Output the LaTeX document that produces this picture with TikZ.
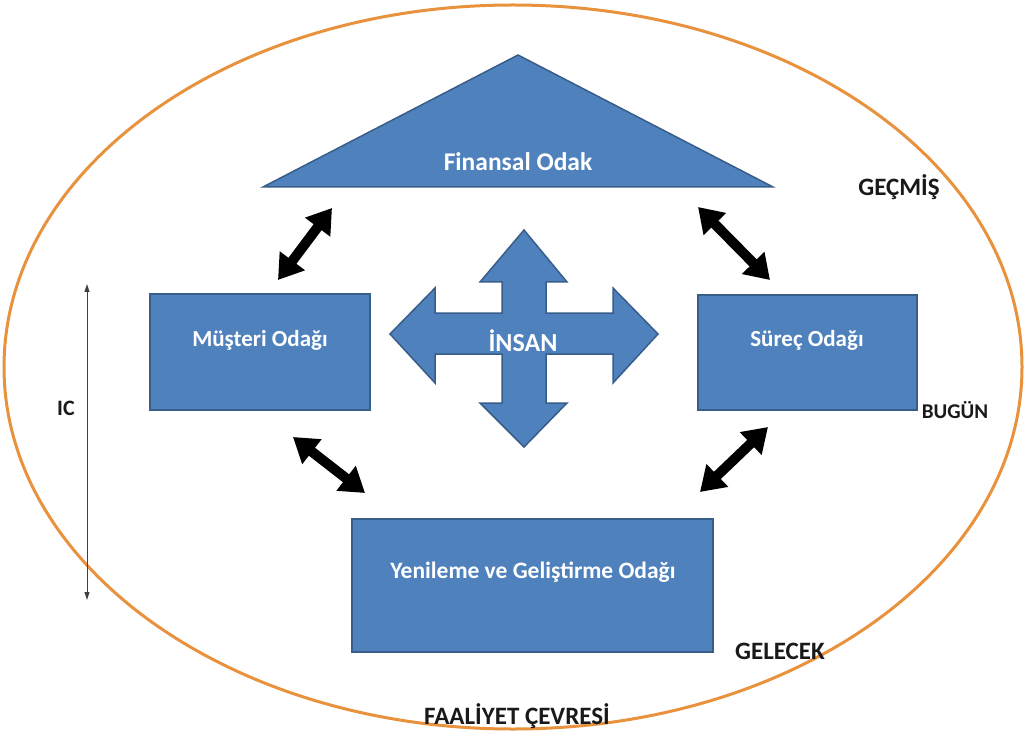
\documentclass[tikz,border=0pt]{standalone}
\usepackage{fontspec}
\setmainfont{Carlito}
\usetikzlibrary{arrows.meta}
\definecolor{boxblue}{HTML}{4F81BD}
\definecolor{boxedge}{HTML}{385D8A}
\definecolor{ringorange}{RGB}{232,146,62}
\definecolor{labelink}{RGB}{25,25,25}
\tikzset{
  bluebox/.style={draw=boxedge, fill=boxblue, line width=1.5pt},
  boxtext/.style={text=white, font=\fontsize{23}{27}\selectfont\bfseries, inner sep=0pt},
  outlabel/.style={text=labelink, font=\fontsize{25}{29}\selectfont\bfseries, inner sep=0pt},
  linkarrow/.style={draw=black, line width=10pt, {Triangle[width=30pt,length=24pt]}-{Triangle[width=30pt,length=24pt]}},
}
\begin{document}
\begin{tikzpicture}[x=1pt,y=-1pt]
\useasboundingbox (0,0) rectangle (1025,735);
% outer ring
\draw[ringorange, line width=3pt] (513,367) ellipse [x radius=509, y radius=362];
% triangle
\filldraw[bluebox] (518,55) -- (773,187) -- (263,187) -- cycle;
\node[boxtext, font=\fontsize{25.5}{30}\selectfont\bfseries] (fin) at (518,162) {Finansal Odak};
% boxes
\filldraw[bluebox] (150,294) rectangle (370,410);
\node[boxtext] (mus) at (260,340) {Müşteri Odağı};
\filldraw[bluebox] (698,295) rectangle (917,410);
\node[boxtext] (sur) at (807,340) {Süreç Odağı};
\filldraw[bluebox] (352,519) rectangle (713,652);
\node[boxtext, font=\fontsize{23.5}{28}\selectfont\bfseries] (yen) at (533,572) {Yenileme ve Geliştirme Odağı};
% cross arrow
\filldraw[bluebox]
  (524,230) -- (567,282) -- (546,282) -- (546,313)
  -- (613,313) -- (613,288) -- (658,334) -- (613,383) -- (613,354)
  -- (546,354) -- (546,403) -- (567,403) -- (524,447) -- (480,403)
  -- (502,403) -- (502,354) -- (435,354) -- (435,383) -- (390,334)
  -- (435,288) -- (435,313) -- (502,313) -- (502,282) -- (480,282) -- cycle;
\node[boxtext, font=\fontsize{26}{30}\selectfont\bfseries] (insan) at (523,341) {İNSAN};
% link arrows
\coordinate (a1) at (278,280); \coordinate (a2) at (332,208);
\coordinate (b1) at (698,207); \coordinate (b2) at (770,280);
\coordinate (c1) at (293,437); \coordinate (c2) at (365,493);
\coordinate (d1) at (768,427); \coordinate (d2) at (700,492);
\draw[linkarrow] (a1) -- (a2);
\draw[linkarrow] (b1) -- (b2);
\draw[linkarrow] (c1) -- (c2);
\draw[linkarrow] (d1) -- (d2);
% IC arrow
\coordinate (ictop) at (87,284);
\coordinate (icbot) at (87,600);
\draw[draw=black!75, line width=1pt, {Triangle[width=5pt,length=8pt]}-{Triangle[width=5pt,length=8pt]}] (ictop) -- (icbot);
\node[outlabel, font=\fontsize{22}{26}\selectfont\bfseries] (ic) at (66,408) {IC};
% labels
\node[outlabel] (gec) at (899,187) {GEÇMİŞ};
\node[outlabel, font=\fontsize{21}{25}\selectfont\bfseries] (bug) at (955,410) {BUGÜN};
\node[outlabel] (gel) at (780,651) {GELECEK};
\node[outlabel] (faa) at (517,716) {FAALİYET ÇEVRESİ};
\end{tikzpicture}
\end{document}
